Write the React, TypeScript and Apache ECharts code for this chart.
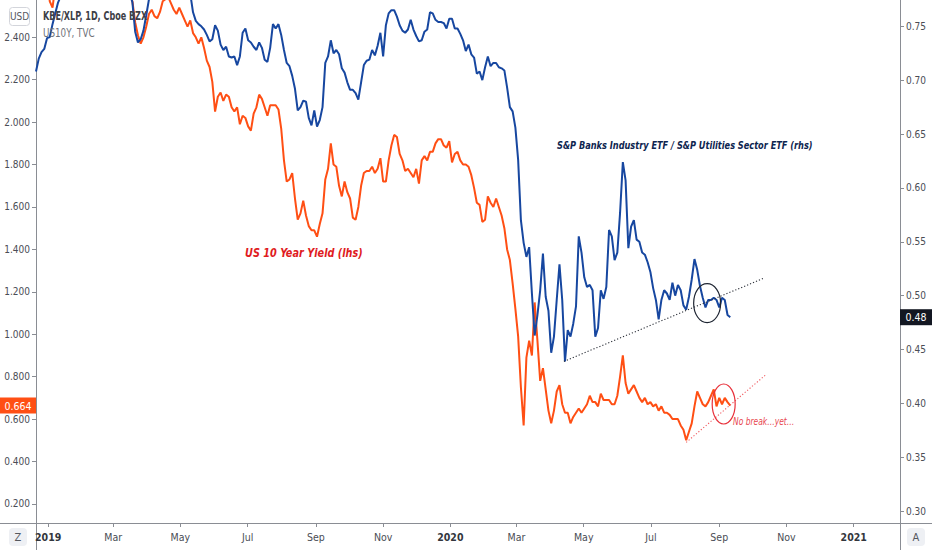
import React, { useEffect, useRef } from 'react';
import * as echarts from 'echarts';

const FONT = '"Liberation Sans Narrow", "DejaVu Sans Condensed", "Liberation Sans", sans-serif';
const AXIS = '#8a8d94';
const LABEL = '#4a4d55';
const BLUE = '#1747a0';
const ORANGE = '#ff4f14';
const HOUR = 3600000;
const DAY = 24 * HOUR;

const ts = (d: string) => {
  const [y, m, day] = d.split('-').map(Number);
  return Date.UTC(y, m - 1, day);
};

// visible time range of the x axis
const axisStart = '2018-12-21';
const axisEnd = '2021-02-12';

// one reading every 60 hours (2.5 days), starting here
const firstSample = '2018-12-21';
const sampleStepHours = 60;

// US 10 Year Yield, TVC (lhs)
const us10y = [
  2.79, 2.78, 2.76, 2.72, 2.68, 2.57, 2.54, 2.64, 2.70, 2.71,
  2.72, 2.73, 2.71, 2.70, 2.74, 2.76, 2.78, 2.79, 2.75, 2.74,
  2.72, 2.71, 2.69, 2.70, 2.68, 2.66, 2.65, 2.69, 2.74, 2.76,
  2.66, 2.64, 2.62, 2.62, 2.60, 2.57, 2.47, 2.41, 2.37, 2.40,
  2.45, 2.51, 2.53, 2.50, 2.49, 2.52, 2.57, 2.58, 2.59, 2.56,
  2.53, 2.51, 2.54, 2.51, 2.48, 2.45, 2.48, 2.42, 2.40, 2.37,
  2.40, 2.35, 2.29, 2.26, 2.19, 2.05, 2.12, 2.14, 2.10, 2.13,
  2.12, 2.07, 2.05, 2.07, 1.99, 2.03, 2.02, 1.98, 1.96, 2.04,
  2.07, 2.13, 2.11, 2.07, 2.03, 2.08, 2.08, 2.08, 2.06, 1.97,
  1.82, 1.72, 1.73, 1.76, 1.64, 1.54, 1.57, 1.63, 1.56, 1.51,
  1.49, 1.49, 1.46, 1.52, 1.57, 1.73, 1.78, 1.90, 1.80, 1.79,
  1.70, 1.65, 1.72, 1.67, 1.64, 1.55, 1.54, 1.60, 1.70, 1.76,
  1.77, 1.77, 1.79, 1.76, 1.78, 1.83, 1.72, 1.72, 1.82, 1.89,
  1.94, 1.93, 1.85, 1.82, 1.77, 1.78, 1.76, 1.74, 1.78, 1.71,
  1.82, 1.84, 1.82, 1.86, 1.86, 1.90, 1.92, 1.92, 1.89, 1.88,
  1.91, 1.81, 1.85, 1.86, 1.82, 1.80, 1.80, 1.79, 1.75, 1.69,
  1.62, 1.61, 1.53, 1.54, 1.65, 1.62, 1.60, 1.64, 1.60, 1.56,
  1.50, 1.40, 1.35, 1.24, 1.12, 0.99, 0.75, 0.57, 0.89, 0.97,
  0.90, 1.15, 0.97, 0.78, 0.84, 0.74, 0.64, 0.58, 0.64, 0.73,
  0.76, 0.67, 0.63, 0.63, 0.58, 0.61, 0.63, 0.65, 0.63, 0.65,
  0.67, 0.71, 0.68, 0.68, 0.66, 0.72, 0.69, 0.69, 0.69, 0.67,
  0.67, 0.71, 0.80, 0.90, 0.77, 0.72, 0.74, 0.76, 0.73, 0.70,
  0.68, 0.70, 0.67, 0.68, 0.66, 0.67, 0.64, 0.66, 0.63, 0.63,
  0.62, 0.60, 0.60, 0.60, 0.57, 0.55, 0.50, 0.54, 0.58, 0.66,
  0.73, 0.70, 0.67, 0.66, 0.68, 0.71, 0.74, 0.66, 0.70, 0.67,
  0.70, 0.68, 0.664,
];

// KBE/XLP ratio, Cboe BZX (rhs)
const kbeXlp = [
  0.708, 0.720, 0.726, 0.729, 0.739, 0.740, 0.752, 0.762, 0.772, 0.778,
  0.785, 0.788, 0.790, 0.792, 0.795, 0.800, 0.800, 0.796, 0.805, 0.803,
  0.800, 0.806, 0.808, 0.810, 0.812, 0.806, 0.805, 0.808, 0.810, 0.805,
  0.800, 0.795, 0.790, 0.786, 0.782, 0.772, 0.745, 0.735, 0.738, 0.746,
  0.760, 0.775, 0.785, 0.790, 0.795, 0.800, 0.800, 0.803, 0.805, 0.800,
  0.800, 0.798, 0.795, 0.792, 0.790, 0.786, 0.780, 0.763, 0.755, 0.752,
  0.750, 0.747, 0.742, 0.736, 0.738, 0.751, 0.746, 0.733, 0.728, 0.731,
  0.722, 0.721, 0.722, 0.714, 0.722, 0.744, 0.748, 0.737, 0.735, 0.731,
  0.728, 0.735, 0.730, 0.719, 0.717, 0.730, 0.752, 0.748, 0.752, 0.742,
  0.728, 0.716, 0.713, 0.704, 0.692, 0.672, 0.675, 0.681, 0.680, 0.665,
  0.658, 0.672, 0.657, 0.663, 0.675, 0.716, 0.722, 0.737, 0.725, 0.728,
  0.724, 0.711, 0.707, 0.698, 0.691, 0.691, 0.688, 0.682, 0.698, 0.714,
  0.718, 0.719, 0.728, 0.723, 0.732, 0.744, 0.722, 0.751, 0.762, 0.765,
  0.765, 0.759, 0.751, 0.746, 0.744, 0.747, 0.756, 0.747, 0.741, 0.736,
  0.737, 0.745, 0.747, 0.763, 0.762, 0.756, 0.754, 0.754, 0.753, 0.748,
  0.757, 0.757, 0.748, 0.748, 0.743, 0.737, 0.727, 0.733, 0.724, 0.721,
  0.706, 0.708, 0.700, 0.712, 0.722, 0.713, 0.716, 0.716, 0.712, 0.711,
  0.709, 0.693, 0.675, 0.671, 0.656, 0.626, 0.570, 0.549, 0.536, 0.545,
  0.502, 0.463, 0.482, 0.505, 0.539, 0.499, 0.486, 0.447, 0.462, 0.496,
  0.529, 0.496, 0.439, 0.468, 0.462, 0.474, 0.490, 0.555, 0.540, 0.517,
  0.508, 0.510, 0.505, 0.462, 0.470, 0.505, 0.497, 0.508, 0.561, 0.555,
  0.533, 0.540, 0.577, 0.624, 0.607, 0.544, 0.564, 0.570, 0.552, 0.550,
  0.540, 0.538, 0.531, 0.522, 0.507, 0.496, 0.478, 0.496, 0.505, 0.502,
  0.496, 0.512, 0.500, 0.510, 0.505, 0.491, 0.487, 0.499, 0.515, 0.534,
  0.524, 0.509, 0.498, 0.489, 0.496, 0.496, 0.498, 0.496, 0.489, 0.498,
  0.496, 0.482, 0.480,
];

const xTickDates = [
  '2019-01-01', '2019-03-01', '2019-05-01', '2019-07-01', '2019-09-01', '2019-11-01',
  '2020-01-01', '2020-03-01', '2020-05-01', '2020-07-01', '2020-09-01', '2020-11-01',
  '2021-01-01',
];
const xTickLabels = ['2019', 'Mar', 'May', 'Jul', 'Sep', 'Nov', '2020', 'Mar', 'May', 'Jul', 'Sep', 'Nov', '2021'];
const leftTicks = [0.2, 0.4, 0.6, 0.8, 1.0, 1.2, 1.4, 1.6, 1.8, 2.0, 2.2, 2.4];
const rightTicks = [0.30, 0.35, 0.40, 0.45, 0.50, 0.55, 0.60, 0.65, 0.70, 0.75];

// hand-drawn trend lines and circles
const kbeTrend: [string, number][] = [['2020-04-13', 0.439], ['2020-10-11', 0.516]];
const yieldTrend: [string, number][] = [['2020-08-02', 0.49], ['2020-10-13', 0.808]];
const kbeCircle: [string, number] = ['2020-08-21', 0.493];
const yieldCircle: [string, number] = ['2020-09-05', 0.671];

const sampleTimes = us10y.map((_, i) => ts(firstSample) + i * sampleStepHours * HOUR);

export default function App() {
  const ref = useRef<HTMLDivElement>(null);

  useEffect(() => {
    if (!ref.current) return;
    const chart = echarts.init(ref.current, undefined, { renderer: 'svg' });
    const xTicks = xTickDates.map(ts);

    chart.setOption({
      animation: false,
      backgroundColor: '#ffffff',
      textStyle: { fontFamily: FONT },
      grid: { left: 36, right: 32, top: 0, bottom: 27 },
      xAxis: {
        type: 'value',
        min: ts(axisStart),
        max: ts(axisEnd),
        splitLine: { show: false },
        axisLine: { lineStyle: { color: AXIS } },
        axisTick: { customValues: xTicks, length: 4, lineStyle: { color: AXIS } },
        axisLabel: {
          customValues: xTicks,
          margin: 8,
          color: LABEL,
          fontSize: 10.5,
          fontFamily: FONT,
          formatter: (v: number) => {
            const i = xTicks.findIndex(t => Math.abs(t - v) < DAY);
            if (i < 0) return '';
            const label = xTickLabels[i];
            return /^\d{4}$/.test(label) ? `{yr|${label}}` : label;
          },
          rich: { yr: { fontWeight: 'bold', fontSize: 10.5, color: '#33363d', fontFamily: FONT } },
        },
      },
      yAxis: [
        {
          type: 'value',
          position: 'left',
          min: 0.11,
          max: 2.576,
          splitLine: { show: false },
          axisLine: { show: true, lineStyle: { color: AXIS } },
          axisTick: { show: true, customValues: leftTicks, length: 4, lineStyle: { color: AXIS } },
          axisLabel: {
            customValues: leftTicks,
            margin: 6,
            color: LABEL,
            fontSize: 10,
            fontFamily: FONT,
            formatter: (v: number) => v.toFixed(3),
          },
        },
        {
          type: 'value',
          position: 'right',
          min: 0.289,
          max: 0.7744,
          splitLine: { show: false },
          axisLine: { show: true, lineStyle: { color: AXIS } },
          axisTick: { show: true, customValues: rightTicks, length: 4, lineStyle: { color: AXIS } },
          axisLabel: {
            customValues: rightTicks,
            margin: 6,
            color: LABEL,
            fontSize: 10,
            fontFamily: FONT,
            formatter: (v: number) => v.toFixed(2),
          },
        },
      ],
      series: [
        {
          name: 'US10Y, TVC',
          type: 'line',
          yAxisIndex: 0,
          data: us10y.map((v, i) => [sampleTimes[i], v]),
          showSymbol: false,
          clip: true,
          lineStyle: { color: ORANGE, width: 2 },
          itemStyle: { color: ORANGE },
          z: 2,
        },
        {
          name: 'KBE/XLP, 1D, Cboe BZX',
          type: 'line',
          yAxisIndex: 1,
          data: kbeXlp.map((v, i) => [sampleTimes[i], v]),
          showSymbol: false,
          clip: true,
          lineStyle: { color: BLUE, width: 2 },
          itemStyle: { color: BLUE },
          z: 3,
        },
        {
          type: 'line',
          yAxisIndex: 1,
          data: kbeTrend.map(([d, v]) => [ts(d), v]),
          showSymbol: false,
          silent: true,
          lineStyle: { color: '#2b2f38', width: 1.1, type: [1.2, 2] },
          z: 4,
        },
        {
          type: 'line',
          yAxisIndex: 0,
          data: yieldTrend.map(([d, v]) => [ts(d), v]),
          showSymbol: false,
          silent: true,
          lineStyle: { color: '#f0585e', width: 1.1, type: [1.2, 2] },
          z: 4,
        },
      ],
    });

    const last = us10y.length - 1;
    const [, oy] = chart.convertToPixel({ seriesIndex: 0 }, [sampleTimes[last], us10y[last]]) as number[];
    const [, by] = chart.convertToPixel({ seriesIndex: 1 }, [sampleTimes[last], kbeXlp[last]]) as number[];
    const [kx, ky] = chart.convertToPixel({ seriesIndex: 1 }, [ts(kbeCircle[0]), kbeCircle[1]]) as number[];
    const [rx, ry] = chart.convertToPixel({ seriesIndex: 0 }, [ts(yieldCircle[0]), yieldCircle[1]]) as number[];

    const txt = (x: number, y: number, text: string, style: Record<string, unknown>, scaleX = 1) => ({
      type: 'text',
      x,
      y,
      scaleX,
      silent: true,
      z: 100,
      style: { text, fontFamily: FONT, verticalAlign: 'middle', ...style },
    });

    chart.setOption({
      graphic: [
        { type: 'line', silent: true, shape: { x1: 36.5, y1: 0, x2: 36.5, y2: 550 }, style: { stroke: AXIS, lineWidth: 1 } },
        { type: 'line', silent: true, shape: { x1: 900.5, y1: 0, x2: 900.5, y2: 550 }, style: { stroke: AXIS, lineWidth: 1 } },
        { type: 'line', silent: true, shape: { x1: 0, y1: 523.5, x2: 932, y2: 523.5 }, style: { stroke: AXIS, lineWidth: 1 } },
        { type: 'rect', silent: true, z: 99, shape: { x: 9.5, y: 7.5, width: 20, height: 18, r: 3 }, style: { fill: '#ffffff', stroke: '#d3d5db' } },
        txt(19.5, 16.5, 'USD', { fill: '#55585f', fontSize: 10, align: 'center' }),
        txt(43, 16, 'KBE/XLP, 1D, Cboe BZX', { fill: '#3d4047', fontSize: 11.5, fontWeight: 'bold' }, 0.78),
        txt(43, 33, 'US10Y, TVC', { fill: '#6f727a', fontSize: 11.5 }, 0.85),
        txt(557, 145, 'S&P Banks Industry ETF / S&P Utilities Sector ETF (rhs)', {
          fill: '#0e2550', fontSize: 11, fontWeight: 'bold', fontStyle: 'italic',
        }, 0.83),
        txt(245, 253, 'US 10 Year Yield (lhs)', { fill: '#e01b22', fontSize: 11.5, fontWeight: 'bold', fontStyle: 'italic' }, 0.94),
        txt(733, 421, 'No break…yet…', { fill: '#e8474f', fontSize: 10, fontStyle: 'italic' }, 0.84),
        { type: 'ellipse', silent: true, z: 90, shape: { cx: kx, cy: ky, rx: 13.5, ry: 19.5 }, style: { fill: 'none', stroke: '#1f2633', lineWidth: 1.2 } },
        { type: 'ellipse', silent: true, z: 90, shape: { cx: rx, cy: ry, rx: 11.5, ry: 20 }, style: { fill: 'none', stroke: '#e8303a', lineWidth: 1.2 } },
        { type: 'rect', silent: true, z: 99, shape: { x: 0, y: oy - 8, width: 36, height: 16 }, style: { fill: ORANGE } },
        txt(18, oy, us10y[last].toFixed(3), { fill: '#ffffff', fontSize: 10.5, align: 'center' }),
        { type: 'rect', silent: true, z: 99, shape: { x: 900, y: by - 8, width: 32, height: 16 }, style: { fill: '#131722' } },
        txt(916, by, kbeXlp[last].toFixed(2), { fill: '#ffffff', fontSize: 10.5, align: 'center' }),
        { type: 'rect', silent: true, z: 99, shape: { x: 9, y: 528, width: 18, height: 18, r: 4 }, style: { fill: '#eef0f4' } },
        txt(18, 537, 'Z', { fill: '#55585f', fontSize: 11, align: 'center' }),
        { type: 'rect', silent: true, z: 99, shape: { x: 907, y: 528, width: 18, height: 18, r: 4 }, style: { fill: '#eef0f4' } },
        txt(916, 537, 'A', { fill: '#55585f', fontSize: 11, align: 'center' }),
      ],
    });

    return () => chart.dispose();
  }, []);

  return <div ref={ref} style={{ position: 'absolute', left: 0, top: 0, width: 932, height: 550 }} />;
}
